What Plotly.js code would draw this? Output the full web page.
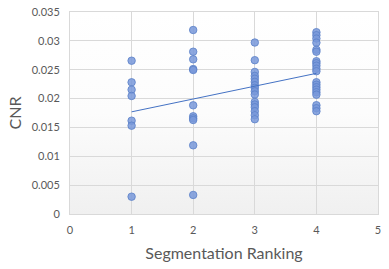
<!DOCTYPE html>
<html>
<head>
<meta charset="utf-8">
<script src="https://cdn.plot.ly/plotly-3.0.1.min.js"></script>
<style>html,body{margin:0;padding:0;background:#fff;}#chart{width:389px;height:269px;}</style>
</head>
<body>
<div id="chart"></div>
<script>
const rank1 = [0.02656, 0.02282, 0.02154, 0.02045, 0.01617, 0.0153, 0.0030];
const rank2 = [0.03188, 0.02812, 0.0268, 0.02512, 0.02495, 0.01883, 0.01693, 0.01658, 0.01629, 0.0119, 0.0033];
const rank3 = [0.02971, 0.02665, 0.02462, 0.02393, 0.02344, 0.02289, 0.02231, 0.02185, 0.02127, 0.0207, 0.01942, 0.01897, 0.0185, 0.01781, 0.01712, 0.01642];
const rank4 = [0.0315, 0.03098, 0.0304, 0.02968, 0.02846, 0.02812, 0.02647, 0.02613, 0.02569, 0.02517, 0.02474, 0.02283, 0.0224, 0.02197, 0.02154, 0.0211, 0.02067, 0.01885, 0.01833, 0.01781];
const rankings = [1, 2, 3, 4];
const xTickVals = [0, 1, 2, 3, 4, 5];
const yTickVals = [0, 0.005, 0.01, 0.015, 0.02, 0.025, 0.03, 0.035];
const yTickText = ["0", "0.005", "0.01", "0.015", "0.02", "0.025", "0.03", "0.035"];

const groups = [rank1, rank2, rank3, rank4];
const xs = [], ys = [];
groups.forEach((g, i) => g.forEach(v => { xs.push(rankings[i]); ys.push(v); }));

// least-squares linear trendline
const n = xs.length;
const mx = xs.reduce((a, b) => a + b, 0) / n;
const my = ys.reduce((a, b) => a + b, 0) / n;
let sxy = 0, sxx = 0;
for (let i = 0; i < n; i++) { sxy += (xs[i] - mx) * (ys[i] - my); sxx += (xs[i] - mx) ** 2; }
const slope = sxy / sxx, icpt = my - slope * mx;
const tx = [Math.min(...xs), Math.max(...xs)];
const ty = tx.map(x => icpt + slope * x);

const grad = 'data:image/svg+xml;utf8,' + encodeURIComponent(
  '<svg xmlns="http://www.w3.org/2000/svg" width="100" height="100" preserveAspectRatio="none">' +
  '<defs><linearGradient id="g" x1="0" y1="0" x2="0" y2="1">' +
  '<stop offset="0" stop-color="#ffffff"/><stop offset="0.5" stop-color="#fcfcfc"/><stop offset="1" stop-color="#f0f0f0"/>' +
  '</linearGradient></defs><rect width="100" height="100" fill="url(#g)"/></svg>');

const font = "Lato, 'Open Sans', sans-serif";
const data = [
  { x: xs, y: ys, type: 'scatter', mode: 'markers',
    marker: { size: 7.5, color: 'rgba(120,152,217,0.85)', line: { color: '#5b80c8', width: 0.8 } },
    hoverinfo: 'x+y', showlegend: false },
  { x: tx, y: ty, type: 'scatter', mode: 'lines',
    line: { color: '#4472c4', width: 1 }, showlegend: false }
];
const layout = {
  width: 389, height: 269,
  margin: { l: 70, r: 11, t: 12, b: 55 },
  paper_bgcolor: '#ffffff', plot_bgcolor: 'rgba(0,0,0,0)',
  font: { family: font, color: '#595959', size: 11 },
  images: [{ source: grad, xref: 'paper', yref: 'paper', x: 0, y: 1, sizex: 1, sizey: 1,
             xanchor: 'left', yanchor: 'top', sizing: 'stretch', layer: 'below' }],
  xaxis: {
    range: [0, 5], tickvals: xTickVals, ticktext: xTickVals.map(String),
    showgrid: true, gridcolor: '#d9d9d9', gridwidth: 1, zeroline: false,
    showline: true, linecolor: '#d9d9d9', mirror: true, ticks: '', ticklen: 0,
    ticklabelstandoff: 6,
    tickfont: { family: font, size: 11, color: '#595959' },
    title: { text: 'Segmentation Ranking', font: { family: font, size: 16, color: '#595959' }, standoff: 12 }
  },
  yaxis: {
    range: [0, 0.035], tickvals: yTickVals, ticktext: yTickText,
    showgrid: true, gridcolor: '#d9d9d9', gridwidth: 1, zeroline: false,
    showline: true, linecolor: '#d9d9d9', mirror: true, ticks: '', ticklen: 0,
    ticklabelstandoff: 7,
    tickfont: { family: font, size: 11, color: '#595959' },
    title: { text: 'CNR', font: { family: font, size: 16, color: '#595959' }, standoff: 6 }
  }
};
Plotly.newPlot('chart', data, layout, { displayModeBar: false, staticPlot: true });
</script>
</body>
</html>
